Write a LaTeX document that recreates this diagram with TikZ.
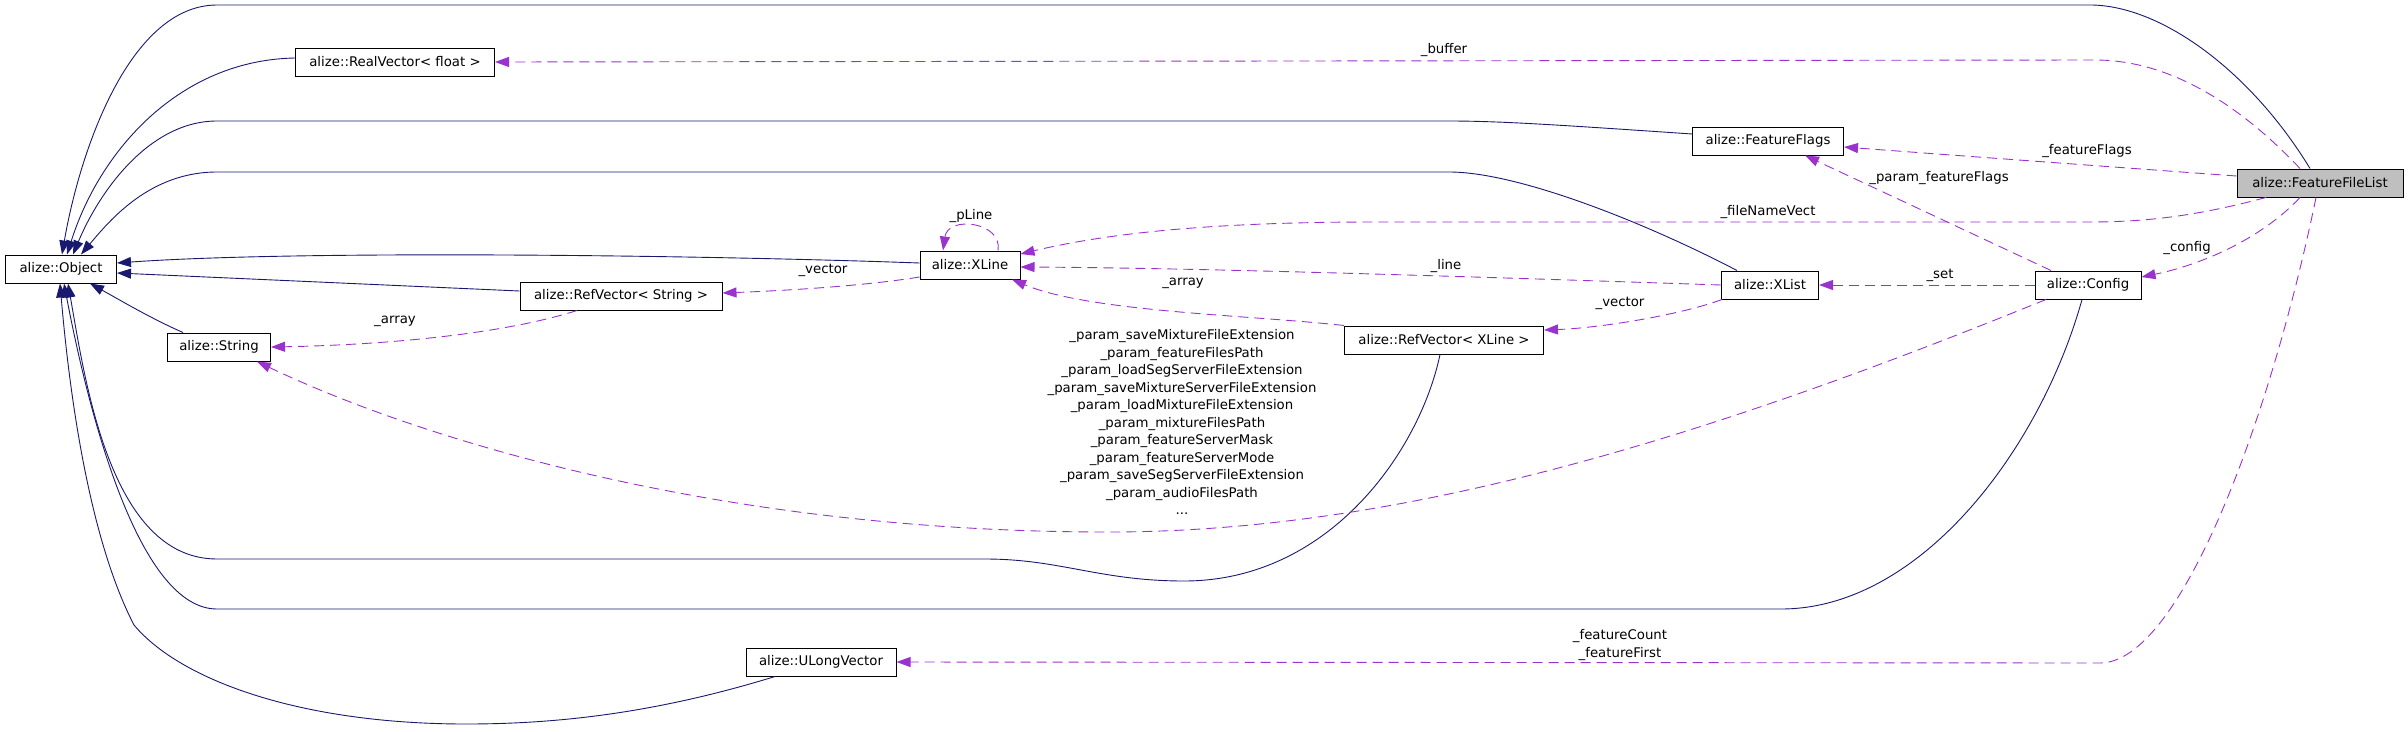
\documentclass[tikz,border=0pt]{standalone}
\usepackage{fontspec}
\setmainfont{DejaVu Sans}
\usetikzlibrary{arrows.meta}
\definecolor{inhblue}{HTML}{191970}
\definecolor{memviolet}{HTML}{9A32CD}
\definecolor{curgray}{HTML}{BFBFBF}

\begin{document}
\begin{tikzpicture}[
  x=1pt, y=-1pt,
  >={Triangle[length=14pt,width=10pt]},
  font=\fontsize{13.3}{17.5}\selectfont,
  cls/.style={draw=black, line width=1pt, fill=white, minimum height=28pt, inner xsep=3pt, inner ysep=0pt},
  inh/.style={->, draw=inhblue, line width=0.9pt},
  mem/.style={->, draw=memviolet, line width=0.9pt, dash pattern=on 10pt off 6pt},
  lbl/.style={inner sep=0pt, align=center}
]
  \useasboundingbox (0,0) rectangle (2408,731);

  % classes
  \node[cls, minimum width=111pt] (obj) at (61,269) {alize::Object};
  \node[cls, minimum width=199pt] (rvf) at (395,62) {alize::RealVector< float >};
  \node[cls, minimum width=166pt, fill=curgray] (ffl) at (2320,183) {alize::FeatureFileList};
  \node[cls, minimum width=151pt] (ff) at (1768,141) {alize::FeatureFlags};
  \node[cls, minimum width=100pt] (xline) at (970,265) {alize::XLine};
  \node[cls, minimum width=202pt] (rvs) at (621,296) {alize::RefVector< String >};
  \node[cls, minimum width=103pt] (str) at (219,347) {alize::String};
  \node[cls, minimum width=97pt] (xlist) at (1770,285) {alize::XList};
  \node[cls, minimum width=106pt] (cfg) at (2088,285) {alize::Config};
  \node[cls, minimum width=199pt] (rvx) at (1444,340) {alize::RefVector< XLine >};
  \node[cls, minimum width=150pt] (ulv) at (821,662) {alize::ULongVector};

  % inheritance
  \draw[inh] ([xshift=-10pt]ffl.north) .. controls (2250,70) and (2160,5) .. (2090,5) -- (217,5)
    .. controls (130,5) and (80,150) .. ([xshift=1pt]obj.north);
  \draw[inh] ([yshift=4pt]rvf.west) .. controls (180,60) and (100,150) .. ([xshift=6pt]obj.north);
  \draw[inh] ([yshift=7pt]ff.west) .. controls (1560,125) and (1500,121) .. (1449,121) -- (217,121)
    .. controls (150,121) and (100,190) .. ([xshift=12pt]obj.north);
  \draw[inh] ([xshift=-33pt]xlist.north) .. controls (1650,225) and (1520,172) .. (1449,172) -- (217,172)
    .. controls (150,172) and (110,220) .. ([xshift=20pt]obj.north);
  \draw[inh] ([yshift=2pt]xline.west) .. controls (700,255) and (300,250) .. ([yshift=6pt]obj.east);
  \draw[inh] ([yshift=5pt]rvs.west) -- ([yshift=-4pt]obj.east);
  \draw[inh] ([xshift=-36pt]str.north) .. controls (150,318) and (120,300) .. ([xshift=29pt]obj.south);
  \draw[inh] ([xshift=-4pt]rvx.south) .. controls (1420,450) and (1330,581) .. (1184,581)
    .. controls (1100,581) and (1060,559) .. (985,559) -- (217,559)
    .. controls (110,559) and (85,380) .. ([xshift=7pt]obj.south);
  \draw[inh] ([xshift=-6pt]cfg.south) .. controls (2040,450) and (1920,609) .. (1781,609) -- (217,609)
    .. controls (140,609) and (90,420) .. ([xshift=3pt]obj.south);
  \draw[inh] ([xshift=-46pt]ulv.south) .. controls (650,715) and (550,724) .. (466,724)
    .. controls (300,724) and (180,680) .. (134,625)
    .. controls (90,540) and (70,400) .. ([xshift=-1pt]obj.south);

  % members
  \draw[mem] ([xshift=-20pt]ffl.north) .. controls (2240,105) and (2170,60) .. (2095,60) -- (rvf.east);
  \draw[mem] ([yshift=7pt]ffl.west) .. controls (2100,166) and (1950,155) .. ([yshift=-6pt]ff.east);
  \draw[mem] ([xshift=-54pt]ffl.south) .. controls (2200,215) and (2150,222) .. (2090,222) -- (1374,222)
    .. controls (1200,222) and (1100,235) .. ([yshift=11pt]xline.east);
  \draw[mem] ([xshift=28pt]xline.north) .. controls (1003,222) and (948,215) .. ([xshift=-27pt]xline.north);
  \draw[mem] (xlist.west) .. controls (1450,276) and (1200,268) .. ([yshift=-2pt]xline.east);
  \draw[mem] (rvx.north west) .. controls (1250,315) and (1090,312) .. ([xshift=42pt]xline.south);
  \draw[mem] ([xshift=1pt]xlist.south west) .. controls (1680,315) and (1600,328) .. ([yshift=10pt]rvx.east);
  \draw[mem] ([yshift=-12pt]xline.west) .. controls (870,285) and (800,290) .. ([yshift=3pt]rvs.east);
  \draw[mem] ([xshift=-44pt]rvs.south) .. controls (500,335) and (380,345) .. (str.east);
  \draw[mem] ([xshift=-42pt]cfg.south) .. controls (1700,440) and (1400,532) .. (1108,532)
    .. controls (700,532) and (400,430) .. ([xshift=38pt]str.south);
  \draw[mem] ([xshift=-20pt]ffl.south) .. controls (2260,240) and (2200,265) .. ([yshift=8pt]cfg.east);
  \draw[mem] (cfg.west) -- (xlist.east);
  \draw[mem] ([xshift=-37pt]cfg.north) -- ([xshift=37pt]ff.south);
  \draw[mem] ([xshift=-4pt]ffl.south) .. controls (2270,420) and (2180,663) .. (2100,663) -- (ulv.east);

  % labels
  \node[lbl] (lbuf) at (1444,50) {\_buffer};
  \node[lbl] (lff) at (2087,151) {\_featureFlags};
  \node[lbl] (lpff) at (1939,178) {\_param\_featureFlags};
  \node[lbl] (lfnv) at (1768,212) {\_fileNameVect};
  \node[lbl] (lcfg) at (2187,248) {\_config};
  \node[lbl] (lset) at (1940,275) {\_set};
  \node[lbl] (lpl) at (971,216) {\_pLine};
  \node[lbl] (lline) at (1446,266) {\_line};
  \node[lbl] (larrx) at (1183,283) {\_array};
  \node[lbl] (lvecx) at (1620,303) {\_vector};
  \node[lbl] (lvecs) at (823,270) {\_vector};
  \node[lbl] (larrs) at (395,321) {\_array};
  \node[lbl] (lpar) at (1182,422) {\_param\_saveMixtureFileExtension\\
    \_param\_featureFilesPath\\
    \_param\_loadSegServerFileExtension\\
    \_param\_saveMixtureServerFileExtension\\
    \_param\_loadMixtureFileExtension\\
    \_param\_mixtureFilesPath\\
    \_param\_featureServerMask\\
    \_param\_featureServerMode\\
    \_param\_saveSegServerFileExtension\\
    \_param\_audioFilesPath\\
    ...};
  \node[lbl] (lfc) at (1620,645) {\_featureCount\\\_featureFirst};
\end{tikzpicture}
\end{document}
